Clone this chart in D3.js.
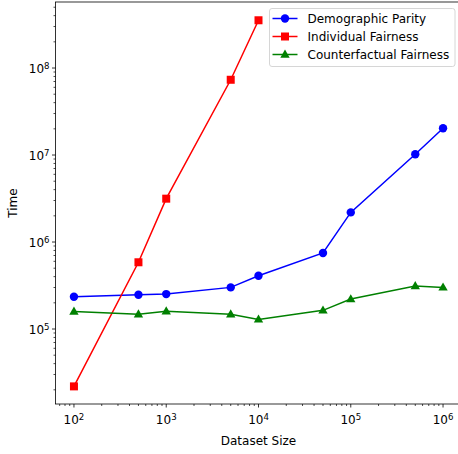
<!DOCTYPE html>
<html>
<head>
<meta charset="utf-8">
<script src="https://cdn.jsdelivr.net/npm/d3@7"></script>
<style>
  body { margin: 0; background: #fff; }
  svg { display: block; font-family: "DejaVu Sans", sans-serif; }
</style>
</head>
<body>
<script>
// dataset sizes on the x axis
const sizes = [100, 500, 1000, 5000, 10000, 50000, 100000, 500000, 1000000];
const sizesIF = [100, 500, 1000, 5000, 10000];

const demographicParity = [2.35e5, 2.48e5, 2.52e5, 3.01e5, 4.1e5, 7.48e5, 2.19e6, 1.02e7, 2.03e7];
const individualFairness = [2.19e4, 5.85e5, 3.15e6, 7.33e7, 3.54e8];
const counterfactualFairness = [1.59e5, 1.48e5, 1.6e5, 1.48e5, 1.29e5, 1.64e5, 2.21e5, 3.12e5, 3.01e5];

const xTicks = [1e2, 1e3, 1e4, 1e5, 1e6];
const yTicks = [1e5, 1e6, 1e7, 1e8];

const series = [
  { name: "Demographic Parity", x: sizes, y: demographicParity, color: "#0000ff", marker: "circle" },
  { name: "Individual Fairness", x: sizesIF, y: individualFairness, color: "#ff0000", marker: "square" },
  { name: "Counterfactual Fairness", x: sizes, y: counterfactualFairness, color: "#008000", marker: "triangle" }
];

var W = 458, H = 454;
var margin = { top: 2, left: 55.5, right: -3.5, bottom: 50 };
var width = W - margin.left - margin.right,
    height = H - margin.top - margin.bottom;
var FS = "12px";

var xScale = d3.scaleLog()
  .domain([Math.pow(10, 1.8), Math.pow(10, 6.2)])
  .range([0, width]);

var yScale = d3.scaleLog()
  .domain([Math.pow(10, 4.138), Math.pow(10, 8.759)])
  .range([height, 0]);

const svg = d3.select("body").append("svg")
  .attr("width", W)
  .attr("height", H);

const g = svg.append("g")
  .attr("transform", "translate(" + margin.left + "," + margin.top + ")");

// minor ticks 2..9 per decade
function minors(scale) {
  var d = scale.domain(), out = [];
  for (var e = Math.floor(Math.log10(d[0])); e <= Math.ceil(Math.log10(d[1])); e++) {
    for (var m = 2; m <= 9; m++) {
      var v = m * Math.pow(10, e);
      if (v >= d[0] && v <= d[1]) out.push(v);
    }
  }
  return out;
}

function supLabel(sel, v) {
  var e = Math.round(Math.log10(v));
  sel.text("");
  sel.append("tspan").text("10");
  sel.append("tspan").attr("dy", "-0.45em").attr("font-size", "8.6px").text(e);
}

// x axis
var xAxis = g.append("g").attr("transform", "translate(0," + height + ")");
xAxis.selectAll(".minor").data(minors(xScale)).enter().append("line")
  .attr("x1", d => xScale(d)).attr("x2", d => xScale(d))
  .attr("y1", 0).attr("y2", 2).attr("stroke", "#000").attr("stroke-width", 0.7);
xAxis.selectAll(".major").data(xTicks).enter().append("line")
  .attr("x1", d => xScale(d)).attr("x2", d => xScale(d))
  .attr("y1", 0).attr("y2", 3.5).attr("stroke", "#000").attr("stroke-width", 0.8);
xAxis.selectAll(".lbl").data(xTicks).enter().append("text")
  .attr("x", d => xScale(d)).attr("y", 20)
  .attr("text-anchor", "middle").attr("font-size", FS).attr("fill", "#000")
  .each(function (d) { supLabel(d3.select(this), d); });

// y axis
var yAxis = g.append("g");
yAxis.selectAll(".minor").data(minors(yScale)).enter().append("line")
  .attr("y1", d => yScale(d)).attr("y2", d => yScale(d))
  .attr("x1", 0).attr("x2", -2).attr("stroke", "#000").attr("stroke-width", 0.7);
yAxis.selectAll(".major").data(yTicks).enter().append("line")
  .attr("y1", d => yScale(d)).attr("y2", d => yScale(d))
  .attr("x1", 0).attr("x2", -3.5).attr("stroke", "#000").attr("stroke-width", 0.8);
yAxis.selectAll(".lbl").data(yTicks).enter().append("text")
  .attr("x", -6).attr("y", d => yScale(d) + 4.5)
  .attr("text-anchor", "end").attr("font-size", FS).attr("fill", "#000")
  .each(function (d) { supLabel(d3.select(this), d); });

// spines
g.append("rect")
  .attr("x", 0).attr("y", 0).attr("width", width).attr("height", height)
  .attr("fill", "none").attr("stroke", "#000").attr("stroke-width", 0.8);

// lines and markers
var line = d3.line()
  .x(d => xScale(d[0]))
  .y(d => yScale(d[1]));

function drawMarker(sel, type, color, cx, cy) {
  if (type === "circle") {
    sel.append("circle").attr("cx", cx).attr("cy", cy).attr("r", 4.2).attr("fill", color);
  } else if (type === "square") {
    sel.append("rect").attr("x", cx - 4).attr("y", cy - 4).attr("width", 8).attr("height", 8).attr("fill", color);
  } else {
    sel.append("path")
      .attr("d", d3.symbol().type(d3.symbolTriangle).size(38)())
      .attr("transform", "translate(" + cx + "," + (cy + 0.5) + ")")
      .attr("fill", color);
  }
}

series.forEach(function (s) {
  var pts = s.x.map((x, i) => [x, s.y[i]]);
  g.append("path")
    .datum(pts)
    .attr("d", line)
    .attr("fill", "none")
    .attr("stroke", s.color)
    .attr("stroke-width", 1.5);
  var mg = g.append("g");
  pts.forEach(p => drawMarker(mg, s.marker, s.color, xScale(p[0]), yScale(p[1])));
});

// legend
var lg = svg.append("g").attr("transform", "translate(269.5,8.5)");
lg.append("rect")
  .attr("width", 185.5).attr("height", 58).attr("rx", 2.5)
  .attr("fill", "#fff").attr("fill-opacity", 0.8)
  .attr("stroke", "#cccccc").attr("stroke-width", 0.8);
series.forEach(function (s, i) {
  var y = 10 + i * 18;
  lg.append("line").attr("x1", 3).attr("x2", 28).attr("y1", y).attr("y2", y)
    .attr("stroke", s.color).attr("stroke-width", 1.5);
  drawMarker(lg, s.marker, s.color, 15.5, y);
  lg.append("text").attr("x", 38).attr("y", y + 4.3)
    .attr("font-size", FS).attr("fill", "#000").text(s.name);
});

// axis titles
svg.append("text")
  .attr("x", margin.left + xScale(1e4)).attr("y", 445)
  .attr("text-anchor", "middle").attr("font-size", FS).text("Dataset Size");

svg.append("text")
  .attr("transform", "translate(17," + (margin.top + height / 2) + ") rotate(-90)")
  .attr("text-anchor", "middle").attr("font-size", FS).text("Time");
</script>
</body>
</html>
